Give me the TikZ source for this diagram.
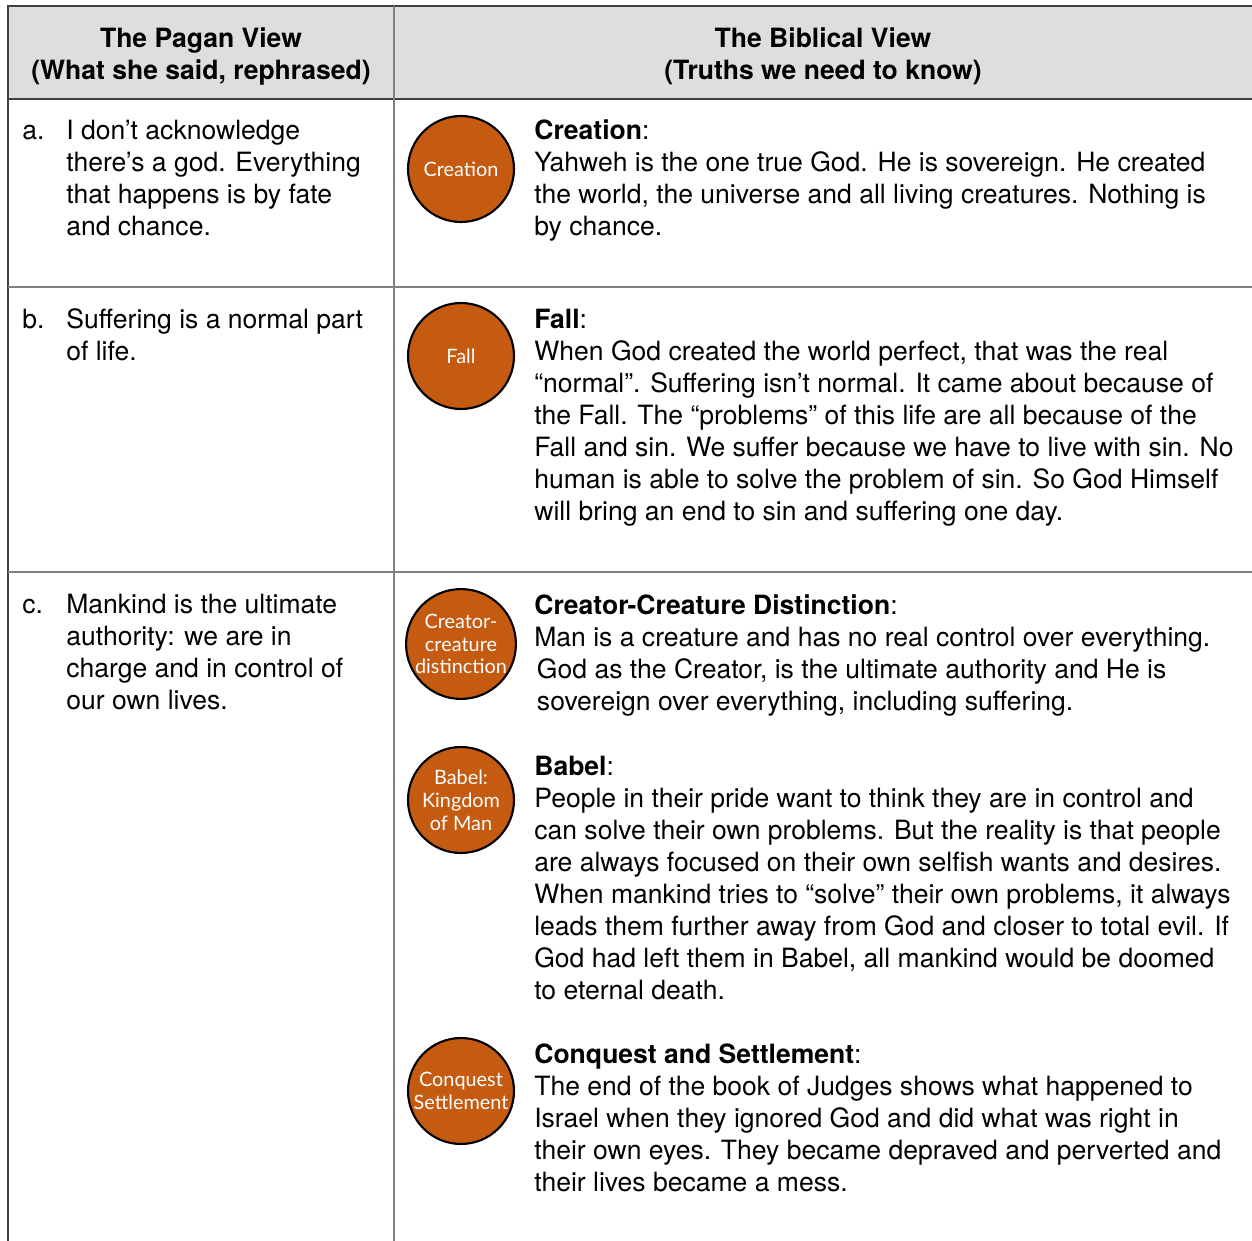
\documentclass[tikz,border=0pt]{standalone}
\usepackage{fontspec}
\setmainfont{TeX Gyre Heros}
\newfontfamily\circfont{Lato}
\usetikzlibrary{positioning}
\definecolor{rust}{HTML}{C55A11}
\definecolor{headgray}{HTML}{DEDEDE}
\tikzstyle{topic} = [circle, draw=black, line width=1.2pt, fill=rust, text=white, minimum size=2.12cm, inner sep=0pt, align=center, font=\circfont\fontsize{11.3}{13}\selectfont]
\tikzstyle{body} = [anchor=base west, inner sep=0pt, align=left, font=\fontsize{15.1}{18.14}\selectfont]
\tikzstyle{head} = [anchor=base, inner sep=0pt, align=center, font=\bfseries\fontsize{15.1}{18.14}\selectfont]
\tikzstyle{frameline} = [draw=black!75, line width=1.4pt]
\tikzstyle{rowline} = [draw=black!50, line width=1pt]

\begin{document}
\begin{tikzpicture}[x=0.02cm, y=-0.02cm]
\useasboundingbox (0,0) rectangle (1252,1241);

% table (multi-line nodes sit on their last baseline)
\fill[headgray] (8,6) rectangle (1252,99);
\draw[frameline] (1252,6) -- (8,6) -- (8,1241);
\draw[frameline] (8,99) -- (1252,99);
\draw[rowline] (394,6) -- (394,1241);
\draw[rowline] (8,287) -- (1252,287);
\draw[rowline] (8,572) -- (1252,572);

\node (hl) [head] at (201,79) {The Pagan View\\(What she said, rephrased)};
\node (hr) [head] at (823,79) {The Biblical View\\(Truths we need to know)};

% pagan column
\node (la) [body] at (22,139) {a.};
\node (pa) [body] at (66,235) {I don’t acknowledge\\there’s a god. Everything\\that happens is by fate\\and chance.};
\node (lb) [body] at (22,328) {b.};
\node (pb) [body] at (66,360) {Suffering is a normal part\\of life.};
\node (lc) [body] at (22,613) {c.};
\node (pc) [body] at (66,709) {Mankind is the ultimate\\authority: we are in\\charge and in control of\\our own lives.};

% topics
\node (creation) [topic] at (461,169) {Creation};
\node (fall) [topic] at (461,356) {Fall};
\node (distinct) [topic] at (461,644) {Creator-\\creature\\distinction};
\node (babel) [topic] at (461,800) {Babel:\\Kingdom\\of Man};
\node (conquest) [topic] at (461,1091) {Conquest\\Settlement};

% biblical column
\node (ta) [body] at (534,235) {\textbf{Creation}:\\Yahweh is the one true God. He is sovereign. He created\\the world, the universe and all living creatures. Nothing is\\by chance.};
\node (tb) [body] at (534,520) {\textbf{Fall}:\\When God created the world perfect, that was the real\\“normal”. Suffering isn’t normal. It came about because of\\the Fall. The “problems” of this life are all because of the\\Fall and sin. We suffer because we have to live with sin. No\\human is able to solve the problem of sin. So God Himself\\will bring an end to sin and suffering one day.};
\node (tc) [body] at (534,710) {\textbf{Creator-Creature Distinction}:\\Man is a creature and has no real control over everything.\\\hspace*{1.5pt}God as the Creator, is the ultimate authority and He is\\\hspace*{1.5pt}sovereign over everything, including suffering.};
\node (td) [body] at (534,999) {\textbf{Babel}:\\People in their pride want to think they are in control and\\can solve their own problems. But the reality is that people\\are always focused on their own selfish wants and desires.\\When mankind tries to “solve” their own problems, it always\\leads them further away from God and closer to total evil. If\\God had left them in Babel, all mankind would be doomed\\to eternal death.};
\node (te) [body] at (534,1191) {\textbf{Conquest and Settlement}:\\The end of the book of Judges shows what happened to\\Israel when they ignored God and did what was right in\\their own eyes. They became depraved and perverted and\\their lives became a mess.};

\end{tikzpicture}
\end{document}
